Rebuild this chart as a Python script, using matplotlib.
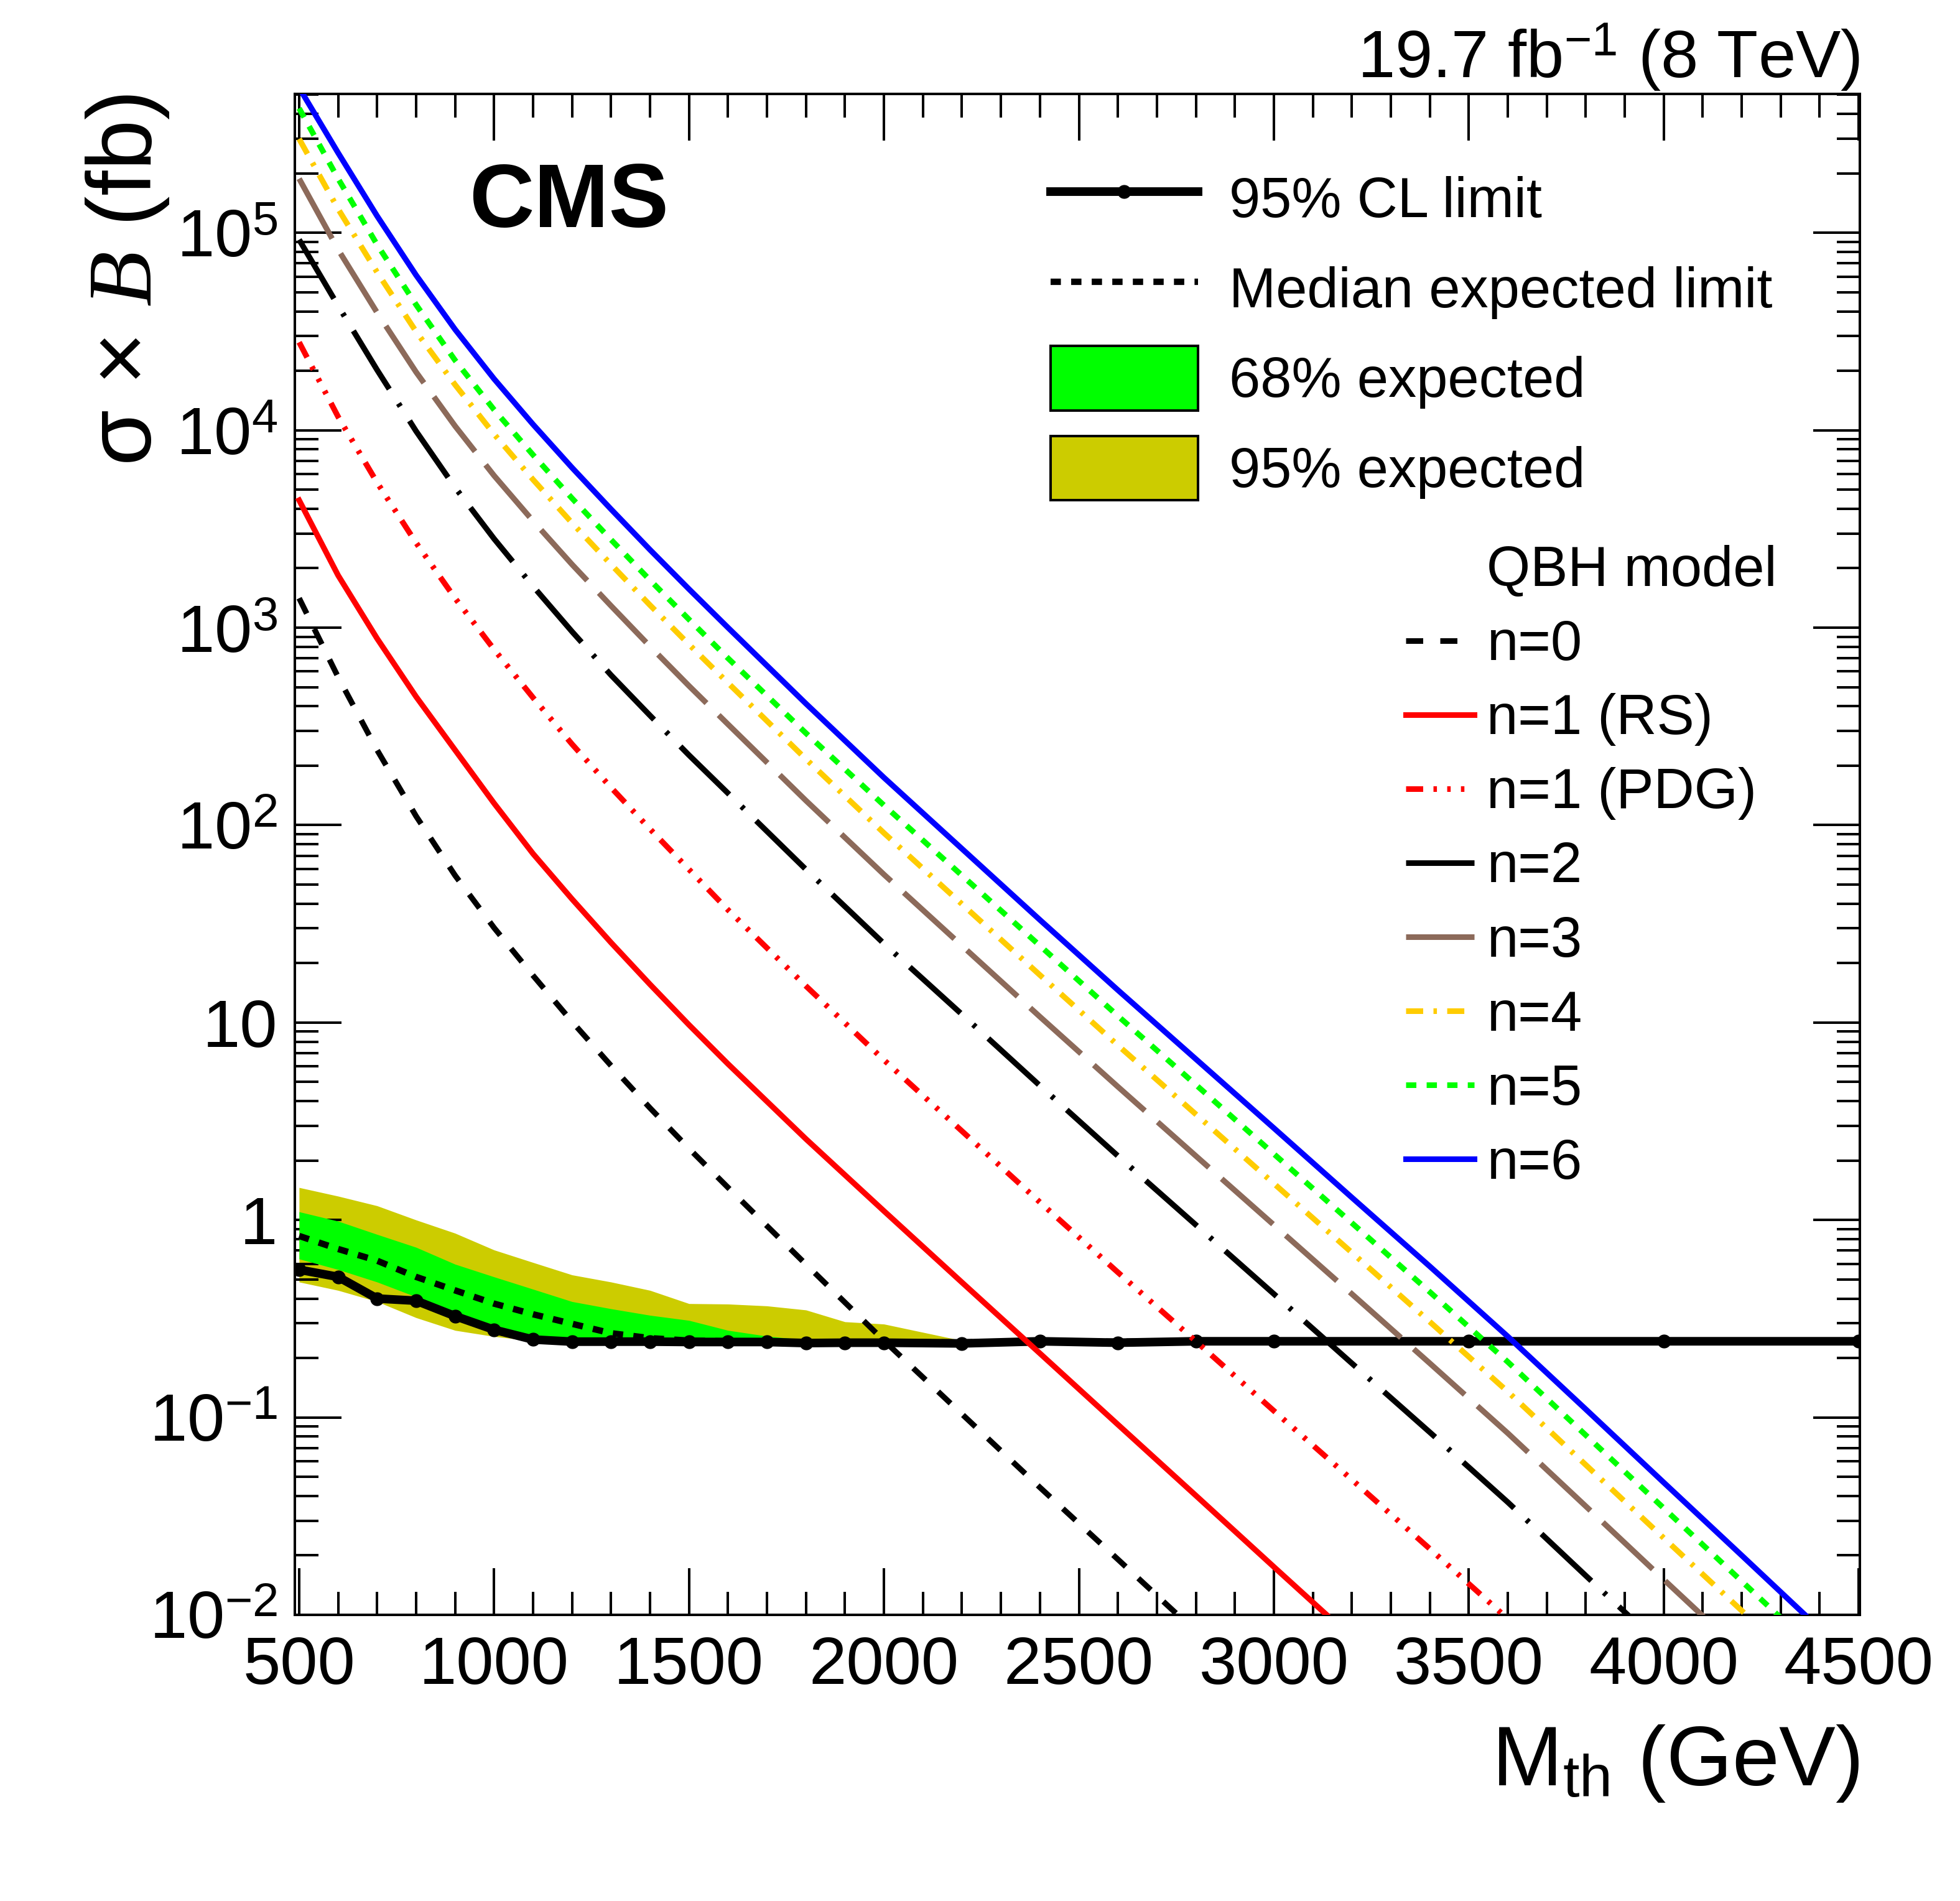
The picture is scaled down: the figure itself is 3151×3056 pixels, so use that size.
import numpy as np
import matplotlib
matplotlib.use('Agg')
import matplotlib.pyplot as plt
from matplotlib.lines import Line2D
from matplotlib.patches import Patch
from matplotlib.ticker import MultipleLocator, LogLocator, NullFormatter

plt.rcParams.update({
    'font.family': ['Liberation Sans', 'DejaVu Sans'],
    'mathtext.fontset': 'custom',
    'mathtext.rm': 'Liberation Sans',
    'mathtext.it': 'Liberation Serif:italic',
    'mathtext.bf': 'Liberation Sans:bold',
    'mathtext.sf': 'Liberation Sans',
    'lines.scale_dashes': False,
    'axes.linewidth': 2.9,
})

# ---------------- data ----------------
mass_lim = [500, 600, 700, 800, 900, 1000, 1100, 1200, 1300, 1400, 1500, 1600,
            1700, 1800, 1900, 2000, 2200, 2400, 2600, 2800, 3000, 3500, 4000, 4500]
obs_limit = [0.56, 0.515, 0.40, 0.39, 0.326, 0.278, 0.248, 0.242, 0.242, 0.242, 0.241, 0.241,
             0.241, 0.238, 0.239, 0.239, 0.237, 0.243, 0.239, 0.243, 0.243, 0.243, 0.243, 0.243]
exp_median = [0.83, 0.713, 0.622, 0.515, 0.44, 0.377, 0.333, 0.298, 0.267, 0.252, 0.245, 0.243,
              0.242, 0.240, 0.240, 0.240, 0.240, 0.242, 0.242, 0.243, 0.243, 0.243, 0.243, 0.243]
exp_m1s = [0.635, 0.561, 0.485, 0.408, 0.340, 0.294, 0.258, 0.244, 0.241, 0.240, 0.240, 0.240,
           0.240, 0.238, 0.238, 0.238, 0.237, 0.240, 0.240, 0.242, 0.242, 0.242, 0.242, 0.242]
exp_p1s = [1.10, 0.986, 0.845, 0.727, 0.597, 0.515, 0.446, 0.386, 0.355, 0.329, 0.310, 0.276,
           0.258, 0.247, 0.243, 0.242, 0.240, 0.243, 0.243, 0.244, 0.244, 0.244, 0.244, 0.244]
exp_m2s = [0.485, 0.44, 0.386, 0.32, 0.276, 0.257, 0.244, 0.240, 0.239, 0.239, 0.239, 0.239,
           0.239, 0.237, 0.237, 0.237, 0.236, 0.239, 0.239, 0.241, 0.241, 0.241, 0.241, 0.241]
exp_p2s = [1.46, 1.32, 1.18, 1.00, 0.857, 0.705, 0.609, 0.527, 0.485, 0.440, 0.377, 0.375,
           0.367, 0.350, 0.305, 0.297, 0.245, 0.243, 0.243, 0.244, 0.244, 0.244, 0.244, 0.244]

mass_th = [500, 600, 700, 800, 900, 1000, 1100, 1200, 1300, 1400, 1500, 1600, 1800,
           2000, 2200, 2400, 2600, 2800, 3000, 3200, 3400, 3600, 3800, 4000, 4200, 4400]
xs_n0 = [1.41e3, 562, 240, 111, 55.6, 30.2, 17.3, 10.1, 6.05, 3.69, 2.30, 1.46, 0.596,
         0.245, 0.104, 0.0442, 0.0191, 0.00822]
xs_n1_rs = [4.42e3, 1.84e3, 881, 447, 240, 129, 71.6, 42.2, 25.4, 15.6, 9.73, 6.17, 2.57,
            1.11, 0.483, 0.211, 0.0920, 0.0402, 0.0175, 0.00766]
xs_n1_pdg = [2.79e4, 1.17e4, 5.43e3, 2.69e3, 1.41e3, 776, 442, 257, 155, 95.5, 59.6, 37.2, 15.3,
             6.46, 2.82, 1.23, 0.543, 0.243, 0.108, 0.0484, 0.0216, 0.00955]
xs_n2 = [9.23e4, 4.27e4, 2.02e4, 9.89e3, 5.13e3, 2.82e3, 1.62e3, 955, 575, 359, 226, 145, 59.6,
         25.1, 11.0, 4.79, 2.11, 0.944, 0.422, 0.188, 0.0841, 0.0372, 0.0158, 0.00676]
xs_n3 = [1.88e5, 8.22e4, 3.94e4, 1.97e4, 1.05e4, 5.89e3, 3.47e3, 2.09e3, 1.29e3, 804, 507, 324, 133,
         56.2, 24.5, 10.7, 4.73, 2.11, 0.944, 0.422, 0.188, 0.0832, 0.0355, 0.0151, 0.00646]
xs_n4 = [2.99e5, 1.32e5, 6.31e4, 3.16e4, 1.70e4, 9.55e3, 5.62e3, 3.39e3, 2.09e3, 1.30e3, 822, 525, 216,
         91.2, 39.8, 17.4, 7.67, 3.43, 1.53, 0.684, 0.305, 0.135, 0.0575, 0.0245, 0.0105, 0.00447]
xs_n5 = [4.27e5, 1.88e5, 8.71e4, 4.32e4, 2.26e4, 1.27e4, 7.50e3, 4.52e3, 2.79e3, 1.74e3, 1.10e3, 700, 292,
         126, 55.6, 24.5, 10.8, 4.84, 2.16, 0.966, 0.432, 0.191, 0.0813, 0.0347, 0.0148, 0.00631]
xs_n6 = [5.43e5, 2.54e5, 1.216e5, 6.10e4, 3.24e4, 1.82e4, 1.07e4, 6.46e3, 3.98e3, 2.48e3, 1.567e3, 1.00e3, 412,
         174, 75.9, 33.1, 14.6, 6.53, 2.92, 1.30, 0.582, 0.257, 0.110, 0.0468, 0.0200, 0.00851]

ytick_vals = [1e-2, 1e-1, 1, 10, 1e2, 1e3, 1e4, 1e5]
ytick_labels = ['$10^{-2}$', '$10^{-1}$', '1', '10', '$10^{2}$', '$10^{3}$', '$10^{4}$', '$10^{5}$']

# ---------------- styles ----------------
theory = [
    ('n=0', xs_n0, 'black', (0, (19.8, 19.8))),
    ('n=1 (RS)', xs_n1_rs, '#ff0000', '-'),
    ('n=1 (PDG)', xs_n1_pdg, '#ff0000', (0, (19.8, 11.9, 4.0, 11.9, 4.0, 11.9, 4.0, 11.9))),
    ('n=2', xs_n2, 'black', (0, (79.2, 19.8, 4.0, 19.8))),
    ('n=3', xs_n3, '#8c6a5a', (0, (79.2, 19.8))),
    ('n=4', xs_n4, '#ffcc00', (0, (19.8, 11.9, 4.0, 11.9))),
    ('n=5', xs_n5, '#00ff00', (0, (11.9, 11.9))),
    ('n=6', xs_n6, '#0000ff', '-'),
]
TH_LW = 6.5

W, H = 3151, 3056
fig = plt.figure(figsize=(W / 100, H / 100), dpi=100)
ax = fig.add_axes([474 / W, 1 - 2596 / H, (2990 - 474) / W, (2596 - 151) / H])
ax.set_yscale('log')

ax.fill_between(mass_lim, exp_m2s, exp_p2s, color='#cccc00', lw=0, zorder=1)
ax.fill_between(mass_lim, exp_m1s, exp_p1s, color='#00ff00', lw=0, zorder=2)
ax.plot(mass_lim, exp_median, color='black', lw=7.4, ls=(0, (11.9, 11.9)), zorder=3)
ax.plot(mass_lim, obs_limit, color='black', lw=10, marker='o', ms=15, zorder=4)

th_handles = []
for lab, vals, col, ls in theory:
    ln, = ax.plot(mass_th[:len(vals)], vals, color=col, lw=TH_LW, ls=ls, zorder=5,
                  dash_capstyle='butt', solid_joinstyle='round')
    th_handles.append(ln)

ax.set_xlim(489, 4503)
ax.set_ylim(1e-2, 5.05e5)
ax.xaxis.set_major_locator(MultipleLocator(500))
ax.xaxis.set_minor_locator(MultipleLocator(100))
ax.set_yticks(ytick_vals, labels=ytick_labels)
ax.yaxis.set_minor_locator(LogLocator(base=10, subs=np.arange(2, 10), numticks=100))
ax.yaxis.set_minor_formatter(NullFormatter())
ax.tick_params(which='both', direction='in', top=True, right=True, width=2.9)
ax.tick_params(which='major', length=54, labelsize=78)
ax.tick_params(which='minor', length=27)
ax.tick_params(axis='x', pad=24)
ax.tick_params(axis='y', pad=20)

ax.set_xlabel('M$_{\\mathrm{th}}$ (GeV)', fontsize=98, loc='right', labelpad=29)
ax.set_ylabel('σ × $B$ (fb)', fontsize=105, loc='top')
ax.yaxis.set_label_coords(-0.079, 1.0)

ax.text(0.1115, 0.9125, 'CMS', transform=ax.transAxes, fontsize=104, fontweight='bold',
        ha='left', va='baseline')
ax.text(1.0, 1.0106, '19.7 fb$^{-1}$ (8 TeV)', transform=ax.transAxes, fontsize=78,
        ha='right', va='baseline')

# legend 1
h1 = [Line2D([], [], color='black', lw=10, marker='o', ms=15),
      Line2D([], [], color='black', lw=7.4, ls=(0, (11.9, 11.9))),
      Patch(facecolor='#00ff00', edgecolor='black', lw=2.9),
      Patch(facecolor='#cccc00', edgecolor='black', lw=2.9)]
l1 = ['95% CL limit', 'Median expected limit', '68% expected', '95% expected']
leg1 = ax.legend(h1, l1, loc='upper left', bbox_to_anchor=(1689 / W, 1 - 267.5 / H),
                 bbox_transform=fig.transFigure, frameon=False, fontsize=65,
                 borderpad=0, borderaxespad=0, handlelength=2.625, handleheight=1.383,
                 handletextpad=0.556, labelspacing=0.456, numpoints=1)
ax.add_artist(leg1)

# legend 2
h2 = [Line2D([], [], ls='none')] + th_handles
l2 = ['QBH model'] + [t[0] for t in theory]
leg2 = ax.legend(h2, l2, loc='upper left', bbox_to_anchor=(2260 / W, 1 - 876 / H),
                 bbox_transform=fig.transFigure, frameon=False, fontsize=65,
                 borderpad=0, borderaxespad=0, handlelength=1.22, handleheight=0.7,
                 handletextpad=0.22, labelspacing=0.378)

fig.savefig('out.png', dpi=100)
